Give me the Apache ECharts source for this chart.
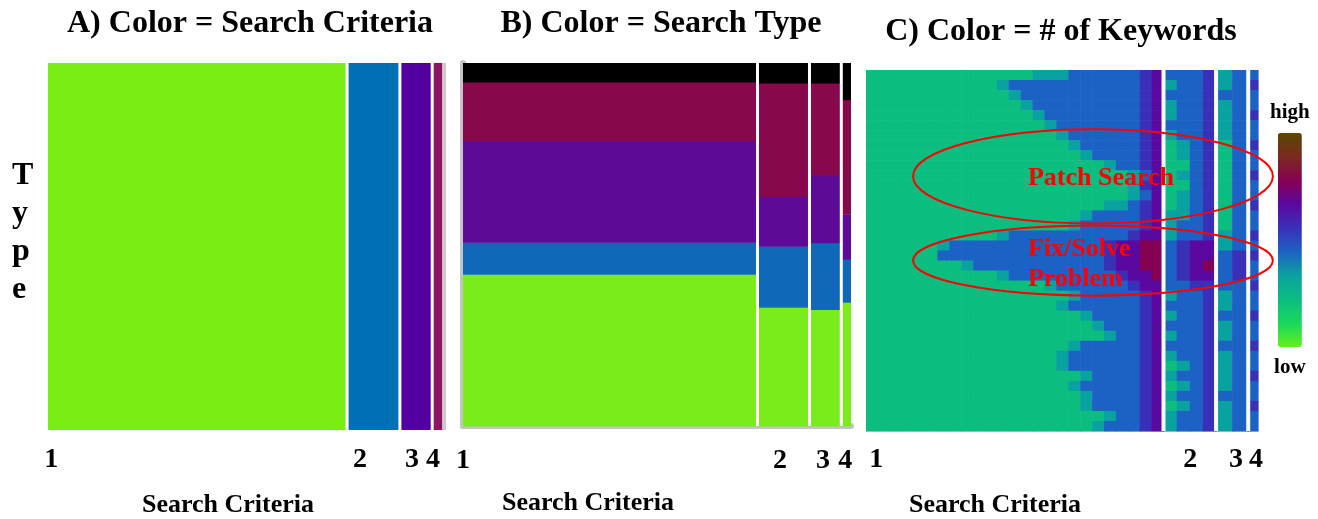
<!DOCTYPE html>
<html>
<head>
<meta charset="utf-8">
<script src="https://cdn.jsdelivr.net/npm/echarts@6/dist/echarts.min.js"></script>
<style>
  html, body { margin: 0; padding: 0; background: #ffffff; }
  #chart { width: 1318px; height: 519px; }
</style>
</head>
<body>
<div id="chart"></div>
<script>
// Search criteria and the share of all searches that used each one (%)
const criteria = ['1', '2', '3', '4'];
const criteriaShare = [75.9, 13.4, 8.2, 2.5];

// Where each criterion label sits on the search axis, per panel
const tickAtA = [0.8, 79.2, 92.4, 97.7];
const tickAtB = [0, 81.7, 92.8, 98.5];
const tickAtC = [2.6, 82.7, 94.4, 99.5];

// Search-type mix inside each criterion (% of that criterion, bottom to top)
const typeNames = ['Type 1', 'Type 2', 'Type 3', 'Type 4', 'Type 5'];
const typeShare1 = [41.8, 32.7, 32.1, 34.1];
const typeShare2 = [8.8, 16.8, 18.4, 11.8];
const typeShare3 = [28.0, 13.7, 18.7, 12.4];
const typeShare4 = [16.2, 31.3, 25.3, 31.6];
const typeShare5 = [5.2, 5.5, 5.5, 10.1];

// Keyword-count level (0 = low ... 9 = high) for each row of searches, top to bottom.
// Groups split by '|' are criteria 1-4; each digit is one bin along that criterion.
const keywordRows = [
  '2222222222222233344444456|4445|34|4',
  '2222222222234444444444456|3445|34|5',
  '2222222222223444444444456|4445|44|4',
  '2222222222222344444444456|3445|34|4',
  '2222222222222234444444456|3445|34|5',
  '2222222222222223444444456|4445|34|4',
  '2222222222222222344444456|3445|34|4',
  '2222222222222222234444456|2345|24|5',
  '2222222222222222223444456|2345|24|4',
  '2222222222222222222234456|2245|24|4',
  '2222222222222222222222346|2345|24|5',
  '2222222222222222222222356|2245|24|4',
  '2222222222222222222222346|2345|24|4',
  '2222222222222222222233456|2345|24|5',
  '2222222222222222223444456|3345|24|4',
  '2222222222222222234444456|3445|24|4',
  '2222222222234444444444566|3445|34|5',
  '2222223444444444444456677|4566|34|4',
  '2222224444444444444456677|4566|45|5',
  '2222222234444444444456677|4567|45|4',
  '2222222222234444444445667|4566|45|4',
  '2222222222222223444444566|4455|44|5',
  '2222222222222222234444456|3445|34|4',
  '2222222222222222344444456|4445|34|4',
  '2222222222222222223444456|3445|44|5',
  '2222222222222222222344456|4445|34|4',
  '2222222222222222222234456|3445|34|4',
  '2222222222222222234444456|4445|44|5',
  '2222222222222222344444456|3445|34|4',
  '2222222222222222344444456|2345|34|4',
  '2222222222222222223444456|3445|34|5',
  '2222222222222222234444456|2345|34|4',
  '2222222222222222223444456|3445|44|4',
  '2222222222222222223444456|2345|34|5',
  '2222222222222222222234456|3445|34|4',
  '2222222222222222222344456|3445|34|4'
];
const binsPerCriterion = [25, 4, 2, 1];

// Callouts on the keyword panel (search-axis %, row units)
const callouts = [
  { text: 'Patch Search', cx: 57.9, cy: 10.6, rx: 45.9, ry: 4.7, tx: 41.3, ty: 10.8 },
  { text: 'Fix/Solve\nProblem', cx: 57.9, cy: 19.0, rx: 45.9, ry: 3.5, tx: 41.3, ty: 19.4 }
];

const criteriaColors = ['#7aee14', '#0070b4', '#5200a0', '#8c1460'];
const typeColors = ['#7aec1c', '#1068b8', '#5e0a98', '#87084c', '#000000'];
const keywordColors = ['#64f020', '#18d85c', '#0cbd80', '#0aa2a0', '#1c62c4',
                       '#3a30b8', '#5a08a0', '#860052', '#7a2a22', '#5a4800'];

const FONT = '"Liberation Serif", "Times New Roman", serif';

// Cumulative criterion boundaries on the search axis
const bounds = [0];
criteriaShare.forEach(s => bounds.push(Math.round((bounds[bounds.length - 1] + s) * 100) / 100));
const innerBounds = bounds.slice(1, -1).map(b => [b, 0]);

// Panel A: one full-height block per criterion
const blocksA = criteria.map((c, i) => [bounds[i], bounds[i + 1], i]);

// Panel B: stacked type blocks inside each criterion
const typeShares = [typeShare1, typeShare2, typeShare3, typeShare4, typeShare5];
const blocksB = [];
criteria.forEach((c, i) => {
  let base = 0;
  typeShares.forEach((arr, t) => {
    blocksB.push([bounds[i], bounds[i + 1], base, base + arr[i], t]);
    base += arr[i];
  });
});

// Panel C: keyword-level cells
const cellsC = [];
keywordRows.forEach((row, r) => {
  const groups = row.split('|');
  groups.forEach((g, i) => {
    if (g.length !== binsPerCriterion[i]) console.error('row ' + r + ' group ' + i + ' has ' + g.length + ' bins');
    const w = criteriaShare[i] / g.length;
    for (let j = 0; j < g.length; j++) {
      cellsC.push([bounds[i] + w * j, bounds[i] + w * (j + 1), r, Number(g[j])]);
    }
  });
});
const rowCount = keywordRows.length;

function pickLabel(ticks) {
  return function (v) {
    let best = 0;
    ticks.forEach((t, k) => { if (Math.abs(t - v) < Math.abs(ticks[best] - v)) best = k; });
    return criteria[best];
  };
}

function separator(width, color) {
  return function (params, api) {
    const x = api.coord([api.value(0), 0])[0];
    const cs = params.coordSys;
    return {
      type: 'rect',
      shape: { x: x - width / 2, y: cs.y, width: width, height: cs.height },
      style: { fill: color }
    };
  };
}

const labelStyle = { fontFamily: FONT, fontWeight: 'bold', fontSize: 28, color: '#000' };
const nameStyle = (padRight) => ({
  fontFamily: FONT, fontWeight: 'bold', fontSize: 26, color: '#000', padding: [0, padRight, 0, 0]
});

function xAxisFor(gridIndex, max, ticks, padRight, margin, gap, extra) {
  return Object.assign({
    gridIndex: gridIndex, type: 'value', min: 0, max: max,
    axisLine: { show: false }, axisTick: { show: false }, splitLine: { show: false },
    axisLabel: Object.assign({ customValues: ticks, formatter: pickLabel(ticks), margin: margin }, labelStyle),
    name: 'Search Criteria', nameLocation: 'middle', nameGap: gap, nameTextStyle: nameStyle(padRight)
  }, extra || {});
}

const titleStyle = { fontFamily: FONT, fontWeight: 'bold', fontSize: 32, color: '#000' };

const chart = echarts.init(document.getElementById('chart'));

chart.setOption({
  animation: false,
  backgroundColor: '#ffffff',
  title: [
    { text: 'A) Color = Search Criteria', left: 245, top: 3, textAlign: 'center', textStyle: titleStyle },
    { text: 'B) Color = Search Type', left: 656, top: 3, textAlign: 'center', textStyle: titleStyle },
    { text: 'C) Color = # of Keywords', left: 1056, top: 11, textAlign: 'center', textStyle: titleStyle }
  ],
  grid: [
    { left: 48, top: 63, width: 398, height: 367, show: true, backgroundColor: '#d0c8d0', borderWidth: 0,
      outerBoundsMode: 'none' },
    { left: 463, top: 63, width: 388, height: 363, outerBoundsMode: 'none' },
    { left: 866, top: 70, width: 392, height: 361, outerBoundsMode: 'none' }
  ],
  xAxis: [
    xAxisFor(0, 101, tickAtA, 38, 16, 62),
    xAxisFor(1, 100, tickAtB, 138, 16, 59, {
      offset: 5, axisLine: { show: true, lineStyle: { color: '#c4c4c4', width: 6 } }
    }),
    xAxisFor(2, 100, tickAtC, 134, 15, 61)
  ],
  yAxis: [
    { gridIndex: 0, type: 'value', min: 0, max: 100,
      axisLine: { show: false }, axisTick: { show: false }, axisLabel: { show: false }, splitLine: { show: false },
      name: '{t|T}\n{t|y}\n{t|p}\n{t|e}\n{g| }', nameLocation: 'middle', nameRotate: 0, nameGap: 36,
      nameTextStyle: { fontFamily: FONT, fontWeight: 'bold', fontSize: 32, color: '#000',
                       align: 'left', verticalAlign: 'middle',
                       rich: { t: { fontFamily: FONT, fontWeight: 'bold', fontSize: 32, lineHeight: 38, color: '#000' },
                               g: { fontSize: 10, lineHeight: 28 } } } },
    { gridIndex: 1, type: 'value', min: 0, max: 100, offset: 4,
      axisLine: { show: true, lineStyle: { color: '#c4c4c4', width: 6 } },
      axisTick: { show: false }, axisLabel: { show: false }, splitLine: { show: false } },
    { gridIndex: 2, type: 'value', min: 0, max: rowCount, inverse: true,
      axisLine: { show: false }, axisTick: { show: false }, axisLabel: { show: false }, splitLine: { show: false } }
  ],
  visualMap: {
    type: 'continuous', seriesIndex: 4, dimension: 3, min: 0, max: 9,
    calculable: false, text: ['high', 'low'], textGap: 10,
    itemWidth: 24, itemHeight: 214, left: 1255, top: 87,
    inRange: { color: keywordColors },
    textStyle: { fontFamily: FONT, fontWeight: 'bold', fontSize: 21, color: '#000' }
  },
  series: [
    { // A: criterion blocks
      type: 'custom', name: 'Search Criteria', xAxisIndex: 0, yAxisIndex: 0,
      encode: { x: [0, 1], y: 2 }, data: blocksA,
      renderItem: function (params, api) {
        const a = api.coord([api.value(0), 100]);
        const b = api.coord([api.value(1), 0]);
        return { type: 'rect', shape: { x: a[0], y: a[1], width: b[0] - a[0], height: b[1] - a[1] },
                 style: { fill: criteriaColors[api.value(2)] } };
      }
    },
    { type: 'custom', xAxisIndex: 0, yAxisIndex: 0, encode: { x: 0, y: 1 }, data: innerBounds,
      renderItem: separator(3, '#ffffff'), z: 3 },
    { // B: type blocks per criterion
      type: 'custom', name: 'Search Type', xAxisIndex: 1, yAxisIndex: 1,
      encode: { x: [0, 1], y: [2, 3] }, data: blocksB,
      renderItem: function (params, api) {
        const a = api.coord([api.value(0), api.value(3)]);
        const b = api.coord([api.value(1), api.value(2)]);
        return { type: 'rect', shape: { x: a[0], y: a[1], width: b[0] - a[0], height: b[1] - a[1] + 0.5 },
                 style: { fill: typeColors[api.value(4)] } };
      }
    },
    { type: 'custom', xAxisIndex: 1, yAxisIndex: 1, encode: { x: 0, y: 1 }, data: innerBounds,
      renderItem: separator(3, '#ffffff'), z: 3 },
    { // C: keyword levels
      type: 'custom', name: '# of Keywords', xAxisIndex: 2, yAxisIndex: 2,
      encode: { x: [0, 1], y: 2 }, data: cellsC,
      renderItem: function (params, api) {
        const a = api.coord([api.value(0), api.value(2)]);
        const b = api.coord([api.value(1), api.value(2) + 1]);
        return { type: 'rect', shape: { x: a[0], y: a[1], width: b[0] - a[0] + 0.6, height: b[1] - a[1] + 0.6 },
                 style: { fill: api.visual('color') } };
      }
    },
    { type: 'custom', xAxisIndex: 2, yAxisIndex: 2, encode: { x: 0, y: 1 }, data: innerBounds,
      renderItem: separator(4, '#f4fdfc'), z: 3 },
    { // C: callouts
      type: 'custom', xAxisIndex: 2, yAxisIndex: 2, z: 5,
      encode: { x: 0, y: 1 },
      data: callouts.map(c => [c.cx, c.cy, c.rx, c.ry, c.tx, c.ty]),
      renderItem: function (params, api) {
        const c = api.coord([api.value(0), api.value(1)]);
        const s = api.size([api.value(2), api.value(3)]);
        const t = api.coord([api.value(4), api.value(5)]);
        return {
          type: 'group',
          children: [
            { type: 'ellipse', shape: { cx: c[0], cy: c[1], rx: s[0], ry: s[1] },
              style: { fill: 'none', stroke: '#ff0000', lineWidth: 2 } },
            { type: 'text', x: t[0], y: t[1],
              style: { text: callouts[params.dataIndex].text, fill: '#ff0000',
                       fontFamily: FONT, fontWeight: 'bold', fontSize: 26, lineHeight: 30,
                       align: 'left', verticalAlign: 'middle' } }
          ]
        };
      }
    }
  ]
});
</script>
</body>
</html>
